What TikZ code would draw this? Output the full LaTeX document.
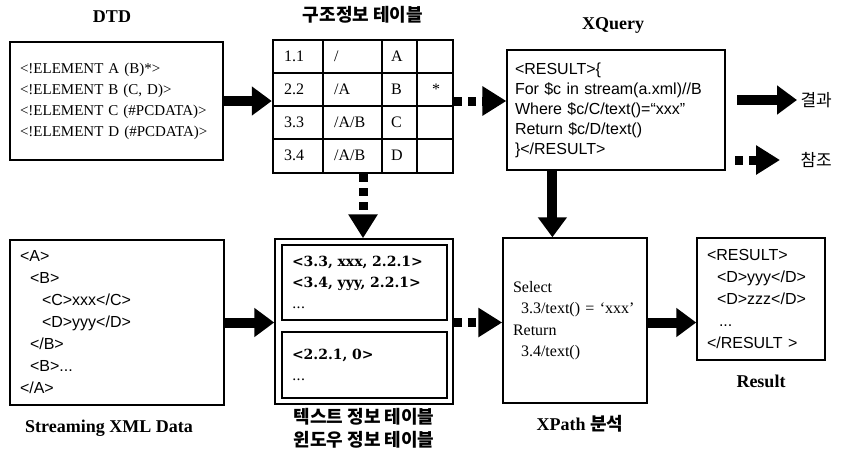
\documentclass[tikz,border=0pt]{standalone}
\usepackage{fontspec}
\setmainfont{Liberation Serif}
\setsansfont{Liberation Sans}
\newfontfamily\krfont{Noto Sans CJK KR}
\newfontfamily\wideserif{DejaVu Serif}
\usetikzlibrary{arrows.meta}

\tikzset{
  box/.style={draw, line width=1.2pt, inner xsep=10pt, inner ysep=0pt, align=left},
  serifbody/.style={font=\fontsize{15}{21}\selectfont},
  sansbody/.style={font=\sffamily\fontsize{16}{22}\selectfont},
  heading/.style={font=\bfseries\fontsize{18}{22}\selectfont},
  krheading/.style={font=\krfont\bfseries\fontsize{18}{23}\selectfont, align=center},
  keytext/.style={font=\krfont\fontsize{17}{19}\selectfont, anchor=west},
  cell/.style={font=\fontsize{16}{18}\selectfont, inner sep=0pt, anchor=west},
  flow/.style={line width=10pt, -{Triangle[length=20pt,width=28pt]}},
  refer/.style={line width=9pt, dash pattern=on 8pt off 6pt, -{Triangle[length=24pt,width=28pt]}},
}

\begin{document}
\begin{tikzpicture}[x=1pt,y=-1pt]
\useasboundingbox (0,0) rectangle (847,464);

% upper row
\node[heading] (dtdtitle) at (112,17) {DTD};
\node[box, serifbody, text width=193pt, minimum height=118pt] (dtd) at (116.5,101)
  {<!ELEMENT A (B)*>\\<!ELEMENT B (C, D)>\\<!ELEMENT C (\#PCDATA)>\\<!ELEMENT D (\#PCDATA)>};

\node[krheading] (tbltitle) at (363,15) {구조정보 테이블};
\node[draw, line width=2.5pt, minimum width=180pt, minimum height=133pt, inner sep=0pt] (tbl) at (363,106.5) {};
\foreach \y in {73,106,139} \draw[line width=1.3pt] (273,\y) -- (453,\y);
\foreach \x in {323,382,417} \draw[line width=1.3pt] (\x,40) -- (\x,173);
\foreach \val [count=\i] in {1.1,2.2,3.3,3.4} \node[cell] (num\i) at (284,{23.5+33*\i}) {\val};
\foreach \val [count=\i] in {/,/A,/A/B,/A/B} \node[cell] (path\i) at (334,{23.5+33*\i}) {\val};
\foreach \val [count=\i] in {A,B,C,D} \node[cell] (elem\i) at (391,{23.5+33*\i}) {\val};
\node[cell, anchor=center] (star) at (436,89.5) {*};

\node[heading] (xqtitle) at (613,25) {XQuery};
\node[box, sansbody, font=\sffamily\fontsize{16}{20}\selectfont, inner xsep=8pt, text width=202pt, minimum height=120pt] (xq) at (616,110)
  {<RESULT>\{\\For \$c in stream(a.xml)//B\\Where \$c/C/text()=“xxx”\\Return \$c/D/text()\\\}</RESULT>};

% legend
\coordinate (flowkey) at (737,100);
\node[keytext] (flowtxt) at (797,100) {결과};
\draw[flow] (flowkey) -- (flowtxt.west);
\coordinate (referkey) at (735,160);
\node[keytext] (refertxt) at (797,160) {참조};
\draw[refer] (referkey) -- ([xshift=-17pt]refertxt.west);

% lower row
\node[box, sansbody, text width=194pt, minimum height=165pt] (xml) at (117,322.5)
  {<A>\\\hspace*{10pt}<B>\\\hspace*{22pt}<C>xxx</C>\\\hspace*{22pt}<D>yyy</D>\\\hspace*{10pt}</B>\\\hspace*{10pt}<B>...\\</A>};
\node[heading] (xmltitle) at (109,428) {Streaming XML Data};

\node[draw, line width=1.5pt, minimum width=178pt, minimum height=165pt, inner sep=0pt] (tt) at (364,321.5) {};
\node[box, line width=1.5pt, font=\wideserif\bfseries\fontsize{14}{21}\selectfont, text width=145pt, minimum height=75pt] (txttbl) at (364.5,282.5)
  {<3.3, xxx, 2.2.1>\\<3.4, yyy, 2.2.1>\\{\mdseries ...}};
\node[box, line width=1.5pt, font=\wideserif\bfseries\fontsize{14}{21}\selectfont, text width=145pt, minimum height=66pt] (wintbl) at (364.5,365)
  {<2.2.1, 0>\\{\mdseries ...}};
\node[krheading] (tttitle) at (364,428.5) {텍스트 정보 테이블\\윈도우 정보 테이블};

\node[box, line width=1.5pt, font=\fontsize{16}{21.5}\selectfont, text width=124pt, minimum height=165pt] (xp) at (575,320.5)
  {Select\\\hspace*{8pt}3.3/text() = ‘xxx’\\Return\\\hspace*{8pt}3.4/text()};
\node[heading] (xptitle) at (580,424) {XPath {\krfont 분석}};

\node[box, sansbody, line width=1.5pt, text width=108pt, minimum height=122pt] (res) at (761,299)
  {<RESULT>\\\hspace*{10pt}<D>yyy</D>\\\hspace*{10pt}<D>zzz</D>\\\hspace*{12pt}...\\</RESULT >};
\node[heading] (restitle) at (761,381) {Result};

% connectors
\draw[flow] (dtd.east) -- (dtd.east -| tbl.west);
\draw[refer] (tbl.east |- dtd.east) -- (dtd.east -| xq.west);
\draw[refer] (tbl.south) -- (tbl.south |- tt.north);
\draw[flow] ([xshift=46pt]xq.south west) -- ([xshift=46pt]xq.south west |- xp.north);
\draw[flow] (xml.east) -- (xml.east -| tt.west);
\draw[refer] (tt.east |- xml.east) -- (xml.east -| xp.west);
\draw[flow] (xp.east |- xml.east) -- (xml.east -| res.west);
\end{tikzpicture}
\end{document}
